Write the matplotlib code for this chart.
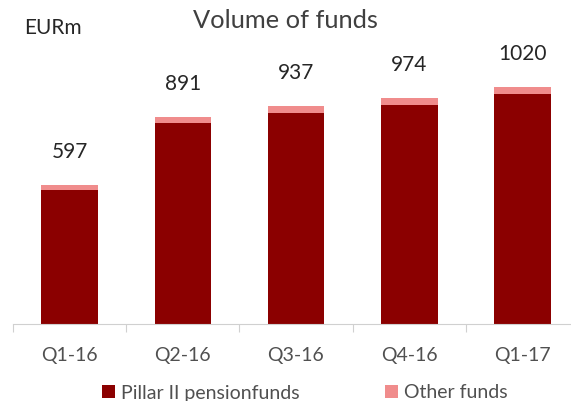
import matplotlib.pyplot as plt
import numpy as np

plt.rcParams['font.family'] = ['Lato', 'DejaVu Sans']

quarters = ["Q1-16", "Q2-16", "Q3-16", "Q4-16", "Q1-17"]
totals = [597, 891, 937, 974, 1020]
pillar2 = [576, 866, 907, 944, 990]
other = [21, 25, 30, 30, 30]

DARK = "#8B0000"
PINK = "#F08C8C"
TXT = "#505050"

fig = plt.figure(figsize=(5.71, 4.01), dpi=100)
# baseline at y=324 px, 0.2328 px per EURm
ax = fig.add_axes([13 / 571, 77 / 401, 566 / 571, 279 / 401])

x = np.arange(len(quarters))
ax.bar(x, pillar2, width=0.5, color=DARK, label="Pillar II pensionfunds")
ax.bar(x, other, width=0.5, bottom=pillar2, color=PINK, label="Other funds")

for xi, t in zip(x, totals):
    ax.text(xi, t + 142, str(t), ha="center", va="center", fontsize=15, color="#262626")

ax.set_xlim(-0.5, 4.5)
ax.set_ylim(0, 1200)
ax.set_yticks([])
for s in ["top", "right", "left"]:
    ax.spines[s].set_visible(False)
ax.spines["bottom"].set_color("#d0d0d0")
ax.set_xticks(np.arange(-0.5, 5, 1))
ax.set_xticklabels([])
ax.tick_params(axis="x", length=6, color="#d0d0d0", direction="out")
for xi, q in zip(x, quarters):
    ax.text(xi, -137, q, ha="center", va="center", fontsize=14, color=TXT, clip_on=False)

fig.text(285 / 571, 1 - 21 / 401, "Volume of funds", ha="center", va="center", fontsize=18.3, color="#404040")
fig.text(24 / 571, 1 - 28 / 401, "EURm", ha="left", va="center", fontsize=15, color="#262626")

fig.legend(loc="center", bbox_to_anchor=(305 / 571, 1 - 393 / 401), ncol=2, frameon=False,
           fontsize=14, handlelength=0.67, handleheight=0.67, handletextpad=0.3,
           columnspacing=4.4, labelcolor=TXT, borderpad=0)

fig.savefig("out.png", dpi=100)
